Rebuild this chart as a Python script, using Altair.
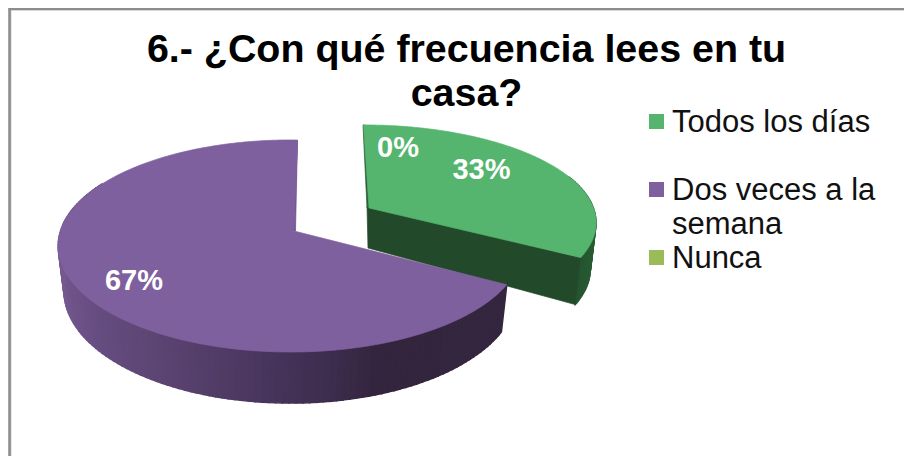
import numpy as np
import altair as alt

# ---- chart values ----
categories = ["Todos los días", "Dos veces a la semana", "Nunca"]
percents = [33, 67, 0]
percent_labels = ["33%", "67%", "0%"]
colors = ["#55B56F", "#7F609E", "#9BBB59"]
title_lines = ["6.- ¿Con qué frecuencia lees en tu", "casa?"]
legend_lines = ["Todos los días", "Dos veces a la", "semana", "Nunca"]

# ---- layout of the drawing (page pixels) ----
OX, OY = 8, 8
FONT = "Liberation Sans"


def P(x, y):
    return [float(x) - OX, float(y) - OY]


def feature(points, fill, stroke=None, sw=0.7):
    ring = [P(*p) for p in points]
    ring.append(ring[0])
    return {
        "type": "Feature",
        "geometry": {"type": "Polygon", "coordinates": [ring]},
        "properties": {"fill": fill, "stroke": stroke or fill, "sw": sw},
    }


def rim(t_deg, x0, y0, a, b, k):
    """Tilted-disc rim: angle clockwise from the top, with perspective k."""
    t = np.radians(t_deg)
    u, v = np.sin(t), np.cos(t)
    w = 1 + k * v
    return x0 + a * u / w, y0 - b * v / w


def lerp_hex(x, xs, hexes):
    rgb = np.array([[int(h[i:i + 2], 16) for i in (1, 3, 5)] for h in hexes], float)
    vals = [np.interp(x, xs, rgb[:, c]) for c in range(3)]
    return "#%02x%02x%02x" % tuple(int(round(c)) for c in vals)


cum = np.cumsum(percents) / 100 * 360
green_end = float(cum[0])

features = []

# border of the chart frame (left and top only are in view)
features.append(feature([(9, 8), (912, 8), (912, 10), (9, 10)], "#8e8e8e"))
features.append(feature([(8.6, 8), (10.8, 8), (10.8, 456), (8.6, 456)], "#8e8e8e"))

# ---- green slice (back) ----
G = dict(x0=363.5, y0=208, a=230, b=95.5, k=0.15)


def green_low(x, y):
    return 363.5 + (x - 363.5) * 0.975, y + 47


ts = np.linspace(0, green_end, 120)
g_rim = [rim(t, **G) for t in ts]
corner = g_rim[-1]
# outer wall, visible at the right
ts_side = np.linspace(70, green_end, 40)
for t0, t1 in zip(ts_side[:-1], ts_side[1:]):
    p0, p1 = rim(t0, **G), rim(t1, **G)
    col = lerp_hex(t0, [70, green_end], ["#2F6F3C", "#255530"])
    features.append(feature([p0, p1, green_low(*p1), green_low(*p0)], col, sw=1.2))
# cut face toward the viewer
features.append(feature(
    [(367, 206), corner, green_low(*corner), (368, 248)], "#224A2A"))
# thin cut face along the left edge
features.append(feature([(363, 125), (367, 208), (369.5, 208), (365, 125)], "#2B5C35"))
# top face
features.append(feature([(369, 208)] + g_rim, colors[0]))

# ---- purple slice (front) ----
V = dict(x0=290.5, y0=231, a=230, b=103.9, k=0.1415)


def purple_low(x, y):
    return 290.5 + (x - 290.5) * 0.975, y + 44.9 + (y - 246) * 0.058


wall_xs = [60, 67, 100, 167, 250, 333, 377, 510]
wall_cols = ["#75598F", "#6F5489", "#654C80", "#5A4370", "#4B3760", "#3C2C4D", "#34253E", "#35263F"]
ts_side = np.arange(green_end, 300.01, 1.5)
for t0, t1 in zip(ts_side[:-1], ts_side[1:]):
    p0, p1 = rim(t0, **V), rim(t1, **V)
    col = lerp_hex((p0[0] + p1[0]) / 2, wall_xs, wall_cols)
    features.append(feature([p0, p1, purple_low(*p1), purple_low(*p0)], col, sw=1.5))

ts = np.linspace(green_end, 362, 240)
v_rim = [rim(t, **V) for t in ts]
features.append(feature([(297.5, 140), (295.5, 231), (293.5, 231), v_rim[-1]], "#6E5388"))
features.append(feature([(294, 231)] + v_rim, colors[1]))

# ---- legend swatches ----
swatch_tops = [114, 182, 250]
for top, col in zip(swatch_tops, colors):
    features.append(feature([(649, top), (664, top), (664, top + 15), (649, top + 15)], col, sw=0))

shapes = (
    alt.Chart(alt.Data(values=features))
    .mark_geoshape()
    .encode(
        fill=alt.Fill("properties.fill:N", scale=None, legend=None),
        stroke=alt.Stroke("properties.stroke:N", scale=None, legend=None),
        strokeWidth=alt.StrokeWidth("properties.sw:Q", scale=None, legend=None),
    )
    .project(type="identity", scale=1, translate=[0, 0])
)

# ---- labels ----
label_rows = [
    {"t": percent_labels[0], "x": 481.5 - OX, "y": 170 - OY},
    {"t": percent_labels[1], "x": 134 - OX, "y": 281 - OY},
    {"t": percent_labels[2], "x": 398 - OX, "y": 148 - OY},
]
labels = (
    alt.Chart(alt.Data(values=label_rows))
    .mark_text(font=FONT, fontSize=29, fontWeight="bold", color="white", align="center", baseline="middle")
    .encode(x=alt.X("x:Q", scale=None, axis=None), y=alt.Y("y:Q", scale=None, axis=None), text="t:N")
)

legend_baselines = [132, 200, 234, 268]
legend_rows = [{"t": t, "x": 672 - OX, "y": b - OY} for t, b in zip(legend_lines, legend_baselines)]
legend_text = (
    alt.Chart(alt.Data(values=legend_rows))
    .mark_text(font=FONT, fontSize=31, color="#111111", align="left", baseline="alphabetic")
    .encode(x=alt.X("x:Q", scale=None, axis=None), y=alt.Y("y:Q", scale=None, axis=None), text="t:N")
)

chart = (
    alt.layer(shapes, labels, legend_text)
    .properties(
        width=896,
        height=448,
        padding=0,
        autosize=alt.AutoSizeParams(type="none"),
        background="white",
        title=alt.TitleParams(
            text=title_lines,
            font=FONT,
            fontSize=39.4,
            fontWeight="bold",
            color="black",
            lineHeight=44,
            anchor="middle",
            dx=10.5,
            dy=110,
        ),
    )
    .configure_view(stroke=None)
)

chart.save("out.html", embed_options={"renderer": "svg", "actions": False})
